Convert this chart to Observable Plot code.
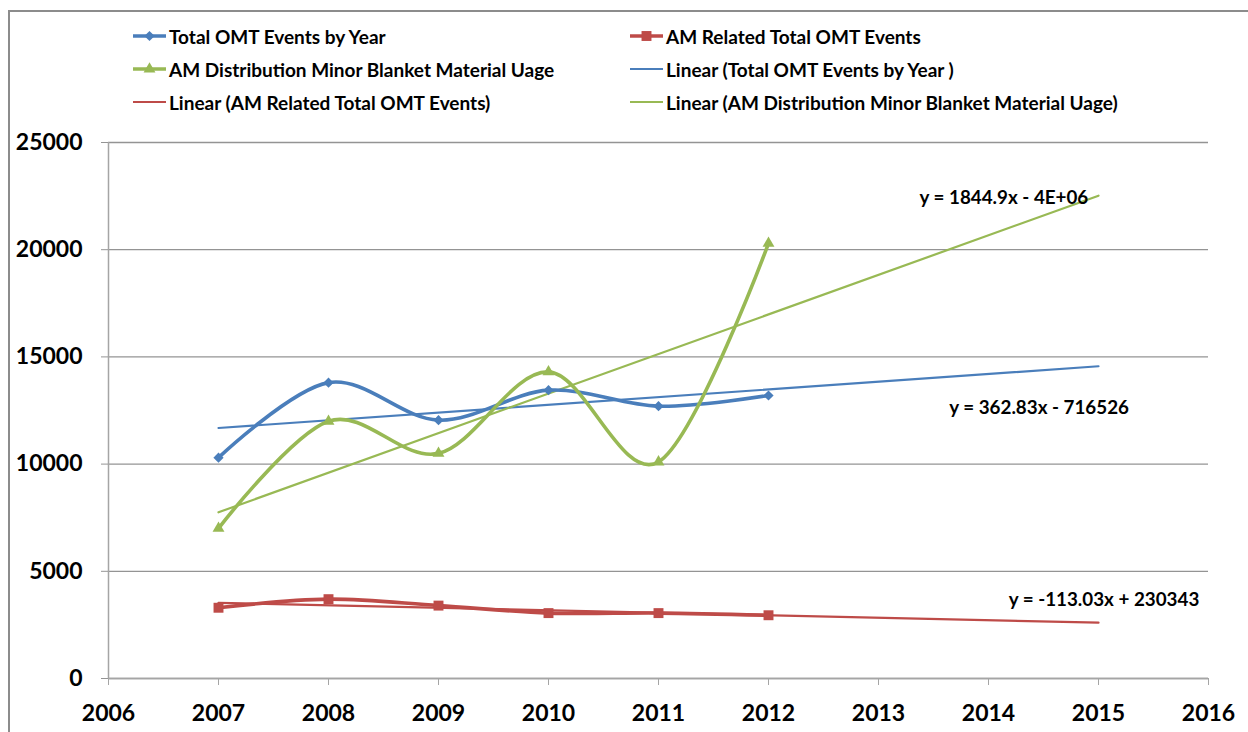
<!DOCTYPE html>
<html><head><meta charset="utf-8">
<script src="https://cdn.jsdelivr.net/npm/d3@7"></script>
<script src="https://cdn.jsdelivr.net/npm/@observablehq/plot@0.6"></script>
<style>
body{margin:0;background:#fff;font-family:Lato,"Liberation Sans",sans-serif;}
#wrap{position:relative;width:1248px;height:732px;overflow:hidden;background:#fff;}
#frame{position:absolute;left:8px;top:10px;width:1300px;height:800px;border:2px solid #8c8c8c;box-sizing:border-box;}
#chart{position:absolute;left:0;top:0;}
.item{position:absolute;display:flex;align-items:center;height:24px;font-weight:bold;font-size:19px;color:#000;white-space:nowrap;}
.item svg{margin-right:3px;}
</style>
</head><body>
<div id="wrap"><div id="frame"></div><div id="chart"></div><div id="legend"></div></div>
<script>
// ---- data ----
const years = [2007, 2008, 2009, 2010, 2011, 2012];
const totalOMT = [10300, 13800, 12050, 13450, 12700, 13200];
const amRelated = [3300, 3700, 3400, 3050, 3050, 2950];
const amDistribution = [7000, 12000, 10500, 14300, 10100, 20300];
const trendRange = [2007, 2015];
const xTicks = [2006, 2007, 2008, 2009, 2010, 2011, 2012, 2013, 2014, 2015, 2016];
const yTicks = [0, 5000, 10000, 15000, 20000, 25000];
const seriesNames = ["Total OMT Events by Year", "AM Related Total OMT Events", "AM Distribution Minor Blanket Material Uage"];
const trendNames = ["Linear (Total OMT Events by Year )", "Linear (AM Related Total OMT Events)", "Linear (AM Distribution Minor Blanket Material Uage)"];
const equationTexts = ["y = 362.83x - 716526", "y = -113.03x + 230343", "y = 1844.9x - 4E+06"];
const equationX = [2014.46, 2015.05, 2014.14];
const equationY = [12640, 3685, 22435];

const colors = ["#4a7ebb", "#be4b48", "#98b954"];
const symbols = ["diamond2", "square", "triangle"];
const radii = [4.6, 5.6, 4.4];
const seriesValues = [totalOMT, amRelated, amDistribution];

function fit(xs, ys) {
  const mx = d3.mean(xs), my = d3.mean(ys);
  const sxy = d3.sum(xs, (x, i) => (x - mx) * (ys[i] - my));
  const sxx = d3.sum(xs, x => (x - mx) ** 2);
  const b = sxy / sxx;
  return x => my + b * (x - mx);
}

const pts = [], trends = [];
seriesValues.forEach((vals, s) => {
  years.forEach((y, i) => pts.push({s, year: y, v: vals[i]}));
  const f = fit(years, vals);
  trendRange.forEach(x => trends.push({s, year: x, v: f(x)}));
});
const eqs = equationTexts.map((t, i) => ({t, x: equationX[i], y: equationY[i]}));

const gridColor = "#949494";
const marks = [
  Plot.gridY(yTicks, {stroke: gridColor, strokeOpacity: 1, strokeWidth: 1.3}),
  Plot.ruleX([2006], {y1: 0, y2: 25000, stroke: "#a5a5a5", strokeWidth: 1.5}),
  Plot.ruleY([0], {stroke: "#a5a5a5", strokeWidth: 1.5}),
  Plot.axisY(yTicks, {tickSize: 7, tickPadding: 19, tickFormat: d => String(d), fontSize: 23, fontWeight: "bold", stroke: gridColor, fill: "#000", label: null}),
  Plot.axisX(xTicks, {tickSize: 7, tickPadding: 19, tickFormat: d => String(d), fontSize: 23, fontWeight: "bold", stroke: "#a5a5a5", fill: "#000", label: null}),
];
[0, 1, 2].forEach(s => {
  marks.push(Plot.line(trends.filter(d => d.s === s), {x: "year", y: "v", stroke: colors[s], strokeWidth: 2.2}));
});
[0, 1, 2].forEach(s => {
  const d = pts.filter(p => p.s === s);
  marks.push(Plot.line(d, {x: "year", y: "v", stroke: colors[s], strokeWidth: 3.6, curve: "cardinal"}));
  marks.push(Plot.dot(d, {x: "year", y: "v", fill: colors[s], symbol: symbols[s], r: radii[s], stroke: "none"}));
});
marks.push(Plot.text(eqs, {x: "x", y: "y", text: "t", fontSize: 18.8, fontWeight: "bold", fill: "#000"}));

const chart = Plot.plot({
  width: 1248, height: 732,
  marginLeft: 108, marginRight: 40, marginTop: 142, marginBottom: 54,
  x: {domain: [2006, 2016], label: null},
  y: {domain: [0, 25000], label: null},
  style: {fontFamily: "Lato, 'Liberation Sans', sans-serif", background: "transparent", overflow: "visible"},
  marks
});
document.getElementById("chart").appendChild(chart);

// legend
const legend = document.getElementById("legend");
const legendItems = [
  {label: seriesNames[0], s: 0, marker: true, col: 0, row: 0},
  {label: seriesNames[1], s: 1, marker: true, col: 1, row: 0},
  {label: seriesNames[2], s: 2, marker: true, col: 0, row: 1},
  {label: trendNames[0], s: 0, marker: false, col: 1, row: 1},
  {label: trendNames[1], s: 1, marker: false, col: 0, row: 2},
  {label: trendNames[2], s: 2, marker: false, col: 1, row: 2},
];
const colX = [133, 630], rowY = [36, 69, 102];
legendItems.forEach(it => {
  const div = document.createElement("div");
  div.className = "item";
  div.style.left = colX[it.col] + "px";
  div.style.top = (rowY[it.row] - 12) + "px";
  const sym = d3.symbol().type({diamond2: d3.symbolDiamond2, square: d3.symbolSquare, triangle: d3.symbolTriangle}[symbols[it.s]]).size(Math.PI * radii[it.s] ** 2)();
  div.innerHTML = `<svg width="33" height="16" viewBox="0 0 33 16"><line x1="0" x2="33" y1="8" y2="8" stroke="${colors[it.s]}" stroke-width="${it.marker ? 3.6 : 2.2}"/>${it.marker ? `<path d="${sym}" transform="translate(16.5,8)" fill="${colors[it.s]}"/>` : ""}</svg><span>${it.label}</span>`;
  legend.appendChild(div);
});
</script>
</body></html>
